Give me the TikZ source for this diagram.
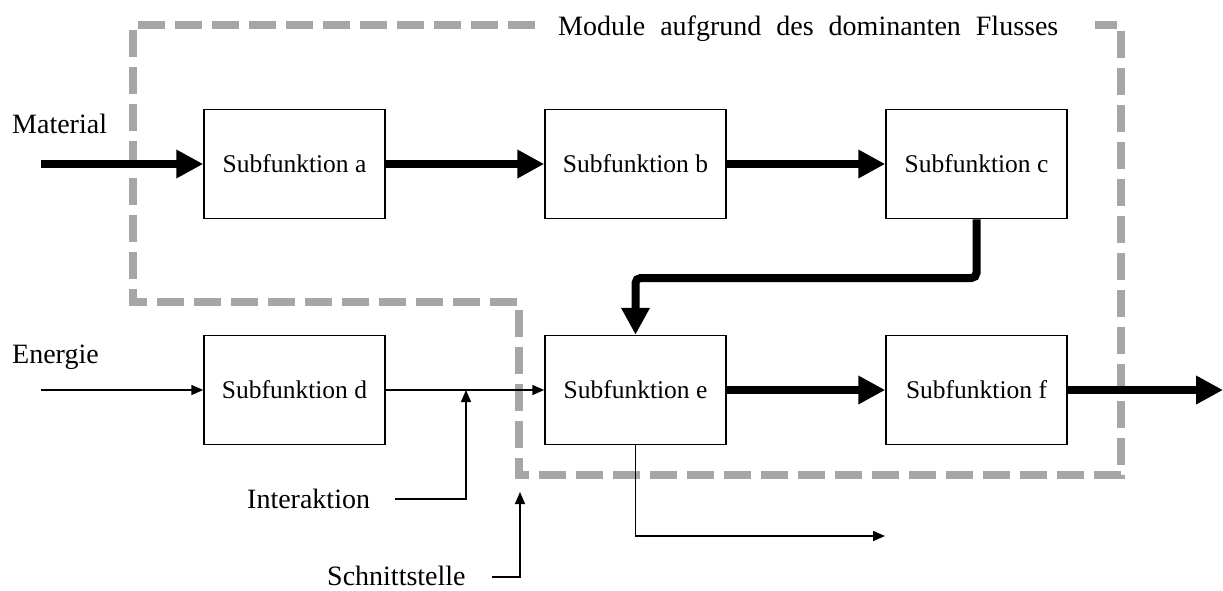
\documentclass[tikz,border=0pt]{standalone}
\usepackage{fontspec}
\setmainfont{Liberation Serif}
\usetikzlibrary{arrows.meta}

\definecolor{modgray}{HTML}{A6A6A6}

\tikzset{
  subfn/.style={draw=black, line width=1.5pt, fill=white, minimum width=181pt,
    minimum height=109pt, inner sep=0pt, font=\fontsize{25.5}{30}\selectfont},
  lbl/.style={anchor=base west, inner sep=0pt, font=\fontsize{28}{34}\selectfont},
  heavyflow/.style={line width=8pt, -{Triangle[length=27pt,width=27pt]}},
  lightflow/.style={line width=1.5pt, -{Triangle[length=12pt,width=10pt]}},
  moduleline/.style={draw=modgray, line width=8pt, dash pattern=on 27pt off 10pt}
}

\begin{document}
\begin{tikzpicture}[x=1pt, y=-1pt]
  \useasboundingbox (0,0) rectangle (1223,590);

  % module boundaries grouped by the dominant flow
  \draw[moduleline] (535,25) -- (133,25) -- (133,302) -- (519,302) -- (519,475)
    -- (1121,475) -- (1121,25) -- (1095,25);
  \node[lbl] (modtitle) at (558,35)
    {Module\hspace{15pt}aufgrund\hspace{15pt}des\hspace{15pt}dominanten\hspace{15pt}Flusses};

  % subfunctions
  \node[subfn] (a) at (294.5,164) {Subfunktion a};
  \node[subfn] (b) at (635.5,164) {Subfunktion b};
  \node[subfn] (c) at (976.5,164) {Subfunktion c};
  \node[subfn] (d) at (294.5,390) {Subfunktion d};
  \node[subfn] (e) at (635.5,390) {Subfunktion e};
  \node[subfn] (f) at (976.5,390) {Subfunktion f};

  % labels
  \node[lbl] (mat) at (12,133) {Material};
  \node[lbl] (ener) at (12,363) {Energie};
  \node[lbl] (inter) at (247,508) {Interaktion};
  \node[lbl] (schn) at (327,585) {Schnittstelle};

  % free ends of connectors
  \coordinate (matin) at (41,164);
  \coordinate (enin) at (41,390);
  \coordinate (fout) at (1223,390);
  \coordinate (iastart) at (395,499);
  \coordinate (iaend) at (466,390);
  \coordinate (ssstart) at (492,577);
  \coordinate (ssend) at (520,492);
  \coordinate (eout) at (885,536);

  % material flow
  \draw[heavyflow] (matin) -- (a.west);
  \draw[heavyflow] (a.east) -- (b.west);
  \draw[heavyflow] (b.east) -- (c.west);
  \draw[heavyflow, rounded corners=5pt] (c.south) -- (c.south |- 0,278) -| (e.north);
  \draw[heavyflow] (e.east) -- (f.west);
  \draw[heavyflow] (f.east) -- (fout);

  % energy flow
  \draw[lightflow] (enin) -- (d.west);
  \draw[lightflow] (d.east) -- (e.west);
  \draw[lightflow] (e.south) |- (eout);

  % annotations
  \draw[lightflow] (iastart) -| (iaend);
  \draw[lightflow] (ssstart) -| (ssend);
\end{tikzpicture}
\end{document}
